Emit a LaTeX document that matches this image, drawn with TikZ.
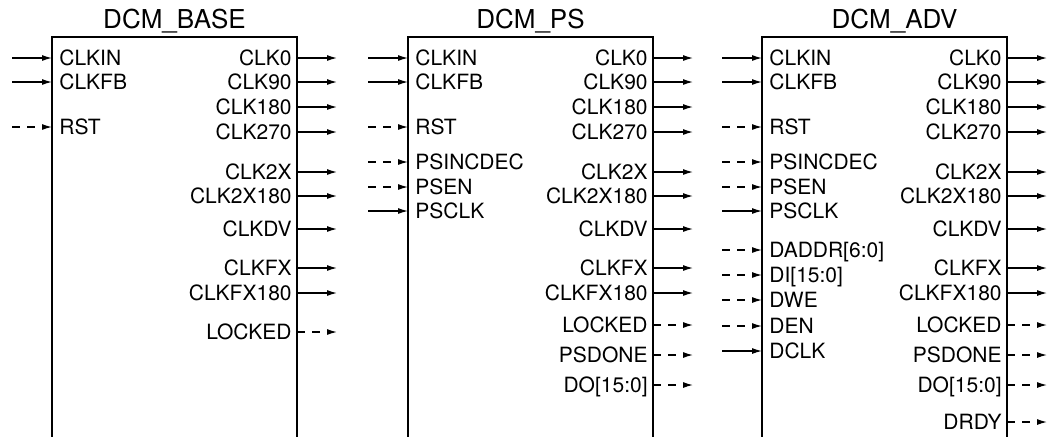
\documentclass[tikz,border=0pt]{standalone}
\usepackage{fontspec}
\setmainfont{TeX Gyre Heros}
\usetikzlibrary{
    arrows.meta,
    positioning
}

\begin{document}
\begin{tikzpicture}[
    x=0.5pt, y=-0.5pt,
    font=\fontsize{10.5}{12}\selectfont,
    block/.style={
        rectangle,
        draw=black,
        line width=1.3pt,
        minimum width=122.5pt,
        minimum height=220pt,
        inner sep=0pt
    },
    title/.style={
        font=\fontsize{13}{15}\selectfont,
        anchor=base,
        inner sep=0pt
    },
    inpin/.style={
        anchor=west,
        inner xsep=3.5pt,
        inner ysep=0pt,
        text height=7.5pt,
        text depth=0pt
    },
    outpin/.style={
        anchor=east,
        inner xsep=2.5pt,
        inner ysep=0pt,
        text height=7.5pt,
        text depth=0pt
    },
    sig/.style={
        -{Latex[length=5pt,width=3pt]},
        line width=0.6pt,
        draw=black
    },
    opt/.style={
        dash pattern=on 4pt off 3.5pt
    }
]
\clip (0,0) rectangle (1059,436);

% =========================================================
% Blocks
% =========================================================
\node[block] (base) at (174.5,257) {};
\node[block] (ps)   at (530.5,257) {};
\node[block] (adv)  at (884.5,257) {};

\node[title] (base-title) at ([yshift=3.5pt]base.north) {DCM\_BASE};
\node[title] (ps-title)   at ([yshift=3.5pt]ps.north)   {DCM\_PS};
\node[title] (adv-title)  at ([xshift=5pt,yshift=3.5pt]adv.north) {DCM\_ADV};

% =========================================================
% DCM_BASE pins
% =========================================================
\foreach \y/\pin/\txt/\ls in {58/clkin/CLKIN/solid, 82/clkfb/CLKFB/solid,
    127/rst/RST/opt}{
    \node[inpin] (base-\pin) at (52,\y) {\txt};
    \draw[sig,\ls] ([xshift=-20pt]base-\pin.west) -- (base-\pin.west);
}
\foreach \y/\pin/\txt/\ls in {58/clk0/CLK0/solid, 82/clk90/CLK90/solid,
    107/clk180/CLK180/solid, 132/clk270/CLK270/solid,
    172/clk2x/CLK2X/solid, 196/clk2x180/CLK2X180/solid,
    229/clkdv/CLKDV/solid, 268/clkfx/CLKFX/solid,
    293/clkfx180/CLKFX180/solid, 332/locked/LOCKED/opt}{
    \node[outpin] (base-\pin) at (297,\y) {\txt};
    \draw[sig,\ls] (base-\pin.east) -- ++(20pt,0);
}

% =========================================================
% DCM_PS pins
% =========================================================
\foreach \y/\pin/\txt/\ls in {58/clkin/CLKIN/solid, 82/clkfb/CLKFB/solid,
    127/rst/RST/opt, 162/psincdec/PSINCDEC/opt, 187/psen/PSEN/opt,
    211/psclk/PSCLK/solid}{
    \node[inpin] (ps-\pin) at (408,\y) {\txt};
    \draw[sig,\ls] ([xshift=-20pt]ps-\pin.west) -- (ps-\pin.west);
}
\foreach \y/\pin/\txt/\ls in {58/clk0/CLK0/solid, 82/clk90/CLK90/solid,
    107/clk180/CLK180/solid, 132/clk270/CLK270/solid,
    172/clk2x/CLK2X/solid, 196/clk2x180/CLK2X180/solid,
    229/clkdv/CLKDV/solid, 268/clkfx/CLKFX/solid,
    293/clkfx180/CLKFX180/solid, 325/locked/LOCKED/opt,
    355/psdone/PSDONE/opt, 385/do/DO[15:0]/opt}{
    \node[outpin] (ps-\pin) at (653,\y) {\txt};
    \draw[sig,\ls] (ps-\pin.east) -- ++(20pt,0);
}

% =========================================================
% DCM_ADV pins
% =========================================================
\foreach \y/\pin/\txt/\ls in {58/clkin/CLKIN/solid, 82/clkfb/CLKFB/solid,
    127/rst/RST/opt, 162/psincdec/PSINCDEC/opt, 187/psen/PSEN/opt,
    211/psclk/PSCLK/solid, 250/daddr/DADDR[6:0]/opt, 275/di/DI[15:0]/opt,
    300/dwe/DWE/opt, 326/den/DEN/opt, 351/dclk/DCLK/solid}{
    \node[inpin] (adv-\pin) at (762,\y) {\txt};
    \draw[sig,\ls] ([xshift=-20pt]adv-\pin.west) -- (adv-\pin.west);
}
\foreach \y/\pin/\txt/\ls in {58/clk0/CLK0/solid, 82/clk90/CLK90/solid,
    107/clk180/CLK180/solid, 132/clk270/CLK270/solid,
    172/clk2x/CLK2X/solid, 196/clk2x180/CLK2X180/solid,
    229/clkdv/CLKDV/solid, 268/clkfx/CLKFX/solid,
    293/clkfx180/CLKFX180/solid, 325/locked/LOCKED/opt,
    355/psdone/PSDONE/opt, 385/do/DO[15:0]/opt, 422/drdy/DRDY/opt}{
    \node[outpin] (adv-\pin) at (1007,\y) {\txt};
    \draw[sig,\ls] (adv-\pin.east) -- ++(20pt,0);
}

\end{tikzpicture}
\end{document}
